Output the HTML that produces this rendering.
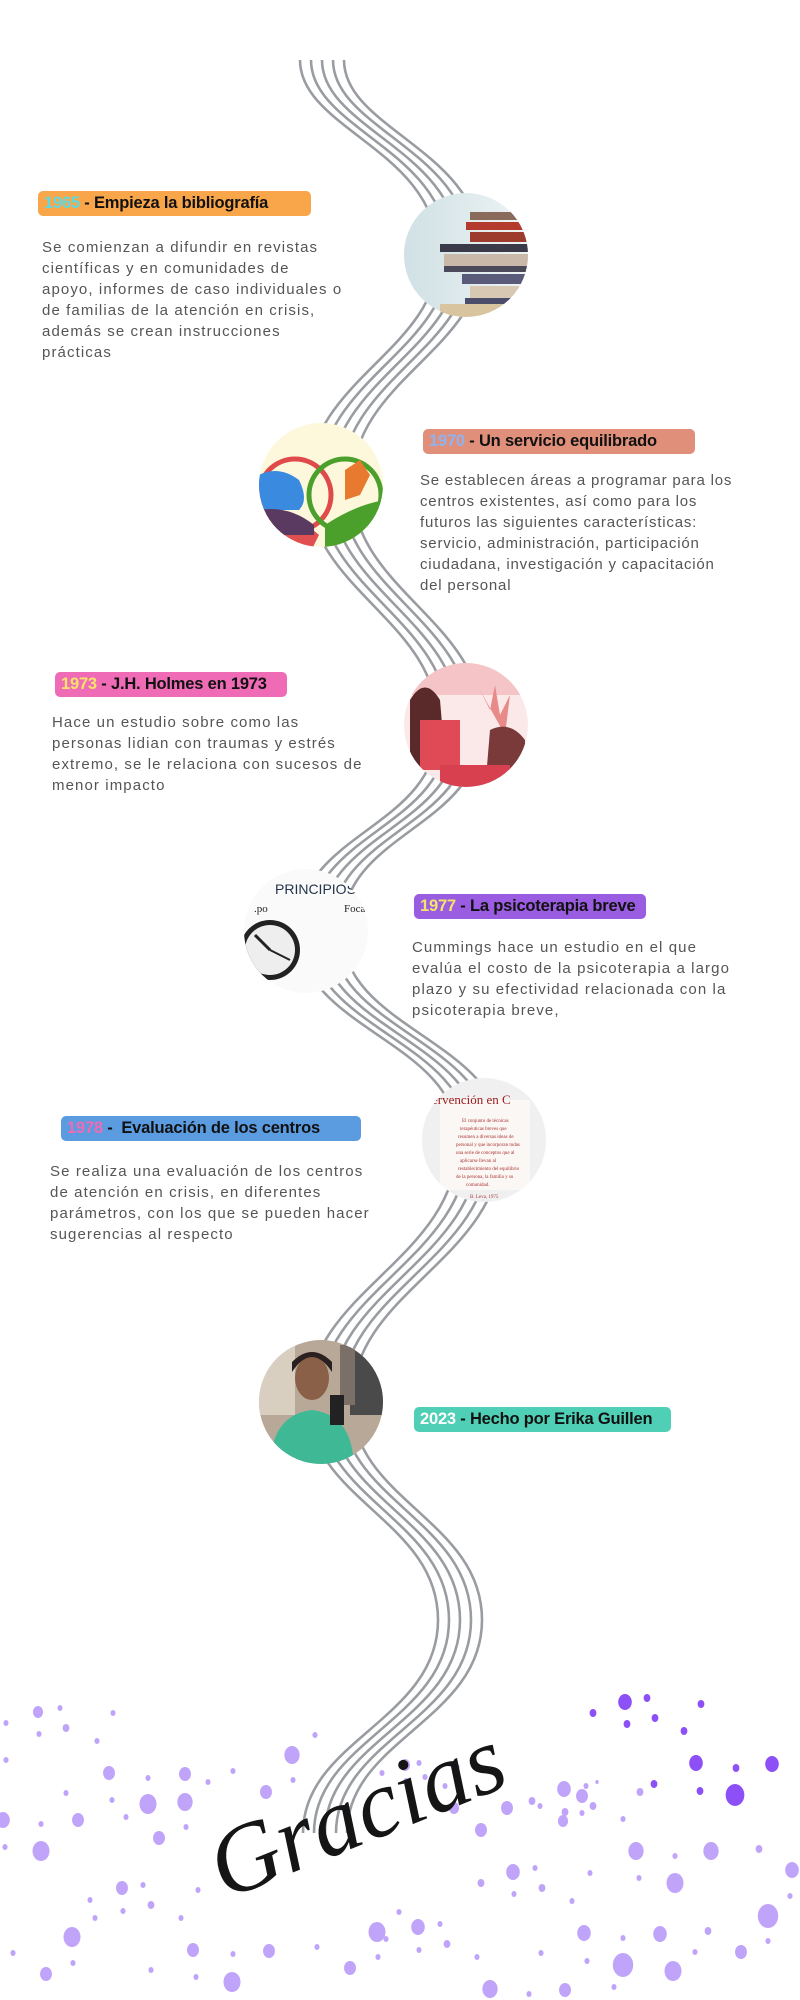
<!DOCTYPE html>
<html><head><meta charset="utf-8">
<style>
html,body{margin:0;padding:0;background:#fff;}
#page{position:relative;width:800px;height:2000px;overflow:hidden;background:#fff;font-family:"Liberation Sans",sans-serif;}
.lbl{position:absolute;height:25px;border-radius:5px;font-weight:bold;font-size:16.5px;line-height:25px;padding-left:6px;white-space:nowrap;color:#111;letter-spacing:-0.2px;}
.body{position:absolute;font-size:15px;line-height:21px;letter-spacing:1.1px;color:#555;white-space:nowrap;}
svg{position:absolute;left:0;top:0;}
</style></head><body>
<div id="page">
<svg width="800" height="2000">
<defs>
<clipPath id="cp1"><circle cx="466" cy="255" r="62"/></clipPath>
<clipPath id="cp2"><circle cx="321" cy="485" r="62"/></clipPath>
<clipPath id="cp3"><circle cx="466" cy="725" r="62"/></clipPath>
<clipPath id="cp4"><circle cx="306" cy="931" r="62"/></clipPath>
<clipPath id="cp5"><circle cx="484" cy="1140" r="62"/></clipPath>
<clipPath id="cp6"><circle cx="321" cy="1402" r="62"/></clipPath>
<linearGradient id="g1" x1="0" x2="1"><stop offset="0" stop-color="#cfe0e4"/><stop offset="1" stop-color="#eef4f4"/></linearGradient>
</defs>
<g id="dots"></g>
<g id="wave" fill="none" stroke="#999da1" stroke-width="2.6"></g>
<g clip-path="url(#cp1)">
<rect x="400" y="190" width="130" height="130" fill="url(#g1)"/>
<rect x="470" y="212" width="60" height="8" fill="#8a6a5a"/>
<rect x="466" y="222" width="64" height="8" fill="#b53a2e"/>
<rect x="470" y="232" width="60" height="10" fill="#9d3b2c"/>
<rect x="440" y="244" width="90" height="8" fill="#3a3a48"/>
<rect x="444" y="254" width="86" height="12" fill="#c9b9a8"/>
<rect x="444" y="266" width="86" height="6" fill="#4a4a5a"/>
<rect x="462" y="274" width="68" height="10" fill="#5a5a7a"/>
<rect x="470" y="286" width="60" height="12" fill="#d7c8b4"/>
<rect x="465" y="298" width="65" height="6" fill="#4b4d6a"/>
<rect x="440" y="304" width="90" height="16" fill="#d8c5a0"/>
</g>
<g clip-path="url(#cp2)">
<rect x="255" y="420" width="135" height="130" fill="#fdf8dc"/>
<circle cx="295" cy="495" r="36" fill="none" stroke="#e04a4a" stroke-width="5"/>
<circle cx="345" cy="495" r="36" fill="none" stroke="#4aa02a" stroke-width="5"/>
<path d="M259,475 q20,-10 40,5 q10,20 0,30 l-40,0z" fill="#3a8ae0"/>
<path d="M259,515 q40,0 60,20 l-10,20 l-50,0z" fill="#e05050"/>
<path d="M259,510 q30,-5 55,15 l0,10 l-55,0z" fill="#5a3a60"/>
<path d="M325,525 q30,-20 60,-25 l0,50 l-60,0z" fill="#4aa02a"/>
<path d="M345,470 l15,-10 l10,15 l-10,20 l-15,5z" fill="#e87a30"/>
</g>
<g clip-path="url(#cp3)">
<rect x="400" y="660" width="135" height="130" fill="#fbe9ea"/>
<rect x="400" y="660" width="135" height="35" fill="#f4c4c6"/>
<path d="M410,700 q15,-25 30,0 l5,60 l-35,10z" fill="#5a2a2a"/>
<rect x="420" y="720" width="40" height="50" fill="#e04a56"/>
<path d="M480,690 l10,20 l5,-25 l5,30 l10,-20 l-5,40z" fill="#e88a88"/>
<path d="M490,730 q20,-10 35,10 l0,50 l-40,0z" fill="#7a3a3a"/>
<rect x="440" y="765" width="70" height="25" fill="#d84050"/>
</g>
<g clip-path="url(#cp4)">
<rect x="240" y="865" width="135" height="135" fill="#fafafa"/>
<text x="275" y="894" font-family="Liberation Sans" font-size="14" fill="#23344a">PRINCIPIOS</text>
<text x="254" y="912" font-family="Liberation Serif" font-size="11" fill="#222">.po</text>
<text x="344" y="912" font-family="Liberation Serif" font-size="11" fill="#222">Foca</text>
<circle cx="270" cy="950" r="30" fill="#222"/>
<circle cx="270" cy="950" r="25" fill="#eee"/>
<line x1="270" y1="950" x2="255" y2="935" stroke="#222" stroke-width="3"/>
<line x1="270" y1="950" x2="290" y2="960" stroke="#222" stroke-width="2"/>
<circle cx="378" cy="960" r="12" fill="#ddd"/>
</g>
<g clip-path="url(#cp5)">
<rect x="420" y="1075" width="130" height="135" fill="#f0f0f0"/>
<rect x="440" y="1100" width="90" height="90" fill="#fbf7f4"/>
<text x="432" y="1104" font-family="Liberation Serif" font-size="13" fill="#9b1b1b">ervención en C</text>
<g fill="#a33" font-family="Liberation Serif" font-size="5">
<text x="462" y="1122">El conjunto de técnicas</text><text x="460" y="1130">terapéuticas breves que</text><text x="458" y="1138">resumen a diversas ideas de</text><text x="456" y="1146">personal y que incorporan todas</text><text x="456" y="1154">una serie de conceptos que al</text><text x="460" y="1162">aplicarse llevan al</text><text x="458" y="1170">restablecimiento del equilibrio</text><text x="456" y="1178">de la persona, la familia y su</text><text x="466" y="1186">comunidad.</text><text x="470" y="1198">B. Leva, 1975</text>
</g>
</g>
<g clip-path="url(#cp6)">
<rect x="255" y="1335" width="135" height="135" fill="#b8a898"/>
<rect x="255" y="1335" width="40" height="80" fill="#d8cfc0"/>
<rect x="350" y="1335" width="40" height="80" fill="#4a4a4a"/>
<rect x="340" y="1345" width="15" height="60" fill="#7a7068"/>
<ellipse cx="312" cy="1378" rx="17" ry="22" fill="#8a6048"/>
<path d="M292,1372 q20,-30 40,0 l0,-10 q-20,-20 -40,0z" fill="#2a2020"/>
<path d="M270,1470 q0,-55 42,-60 q42,5 42,60z" fill="#3fb896"/>
<rect x="330" y="1395" width="14" height="30" fill="#222"/>
</g>
<text x="0" y="0" transform="translate(225,1900) rotate(-22)" font-family="Liberation Serif" font-style="italic" font-size="96" fill="#151515">Gracias</text>
</svg>

<div class="lbl" style="left:38px;top:191px;width:267px;background:#f9a64a"><span style="color:#5fd8e0">1965</span> - Empieza la bibliografía</div>
<div class="body" style="left:42px;top:237px">Se comienzan a difundir en revistas<br>científicas y en comunidades de<br>apoyo, informes de caso individuales o<br>de familias de la atención en crisis,<br>además se crean instrucciones<br>prácticas</div>

<div class="lbl" style="left:423px;top:429px;width:266px;background:#e0907a"><span style="color:#8fb3f0">1970</span> - Un servicio equilibrado</div>
<div class="body" style="left:420px;top:470px;letter-spacing:0.8px">Se establecen áreas a programar para los<br>centros existentes, así como para los<br>futuros las siguientes características:<br>servicio, administración, participación<br>ciudadana, investigación y capacitación<br>del personal</div>

<div class="lbl" style="left:55px;top:672px;width:226px;background:#ef6bb5"><span style="color:#f4e46a">1973</span> - J.H. Holmes en 1973</div>
<div class="body" style="left:52px;top:712px">Hace un estudio sobre como las<br>personas lidian con traumas y estrés<br>extremo, se le relaciona con sucesos de<br>menor impacto</div>

<div class="lbl" style="left:414px;top:894px;width:226px;background:#9a5ce0"><span style="color:#f4e46a">1977</span> - La psicoterapia breve</div>
<div class="body" style="left:412px;top:937px">Cummings hace un estudio en el que<br>evalúa el costo de la psicoterapia a largo<br>plazo y su efectividad relacionada con la<br>psicoterapia breve,</div>

<div class="lbl" style="left:61px;top:1116px;width:294px;background:#5b9be0"><span style="color:#ef6bb5">1978</span> -&nbsp; Evaluación de los centros</div>
<div class="body" style="left:50px;top:1161px">Se realiza una evaluación de los centros<br>de atención en crisis, en diferentes<br>parámetros, con los que se pueden hacer<br>sugerencias al respecto</div>

<div class="lbl" style="left:414px;top:1407px;width:251px;background:#4fcfb5"><span style="color:#fff">2023</span> - Hecho por Erika Guillen</div>

<script>
var NS="http://www.w3.org/2000/svg";
var wave=document.getElementById('wave');
var d="M322,60 C322,130 460,150 460,255 C460,350 330,380 330,485 C330,590 460,620 460,725 C460,830 320,830 320,931 C320,1030 480,1040 480,1140 C480,1260 330,1290 330,1402 C330,1500 460,1520 460,1620 C460,1720 325,1740 325,1833";
[-22,-11,0,11,22].forEach(function(o){
  var p=document.createElementNS(NS,'path');
  p.setAttribute('d',d);
  p.setAttribute('transform','translate('+o+',0)');
  
  
  wave.appendChild(p);
});
var light=[[38,1712,6],[60,1708,3],[113,1713,3],[6,1723,3],[66,1728,4],[39,1734,3],[97,1741,3],[6,1760,3],[109,1773,7],[148,1778,3],[185,1774,7],[208,1782,3],[233,1771,3],[66,1793,3],[112,1800,3],[148,1804,10],[185,1802,9],[3,1820,8],[41,1824,3],[78,1820,7],[126,1817,3],[159,1838,7],[186,1827,3],[5,1847,3],[41,1851,10],[292,1755,9],[315,1735,3],[293,1780,3],[266,1792,7],[122,1888,7],[143,1885,3],[198,1890,3],[90,1900,3],[151,1905,4],[123,1911,3],[95,1918,3],[181,1918,3],[72,1937,10],[13,1953,3],[193,1950,7],[233,1954,3],[269,1951,7],[317,1947,3],[73,1963,3],[46,1974,7],[151,1970,3],[196,1977,3],[232,1982,10],[350,1968,7],[377,1932,10],[386,1939,3],[399,1912,3],[418,1927,8],[440,1924,3],[419,1950,3],[447,1944,4],[378,1957,3],[477,1957,3],[490,1989,9],[529,1994,3],[565,1990,7],[541,1953,3],[587,1961,3],[584,1933,8],[623,1938,3],[623,1965,12],[614,1987,3],[673,1971,10],[660,1934,8],[708,1931,4],[695,1952,3],[741,1952,7],[768,1941,3],[768,1916,12],[790,1896,3],[792,1870,8],[759,1849,4],[711,1851,9],[675,1856,3],[675,1883,10],[639,1878,3],[636,1851,9],[623,1819,3],[572,1901,3],[513,1872,8],[535,1868,3],[542,1888,4],[514,1894,3],[481,1883,4],[590,1873,3],[563,1821,6],[565,1812,4],[582,1813,3],[593,1806,4],[564,1789,8],[582,1796,7],[586,1786,3],[597,1782,2],[532,1801,4],[540,1806,3],[507,1808,7],[481,1830,7],[454,1808,6],[445,1786,3],[457,1767,3],[425,1777,3],[406,1781,3],[405,1765,6],[419,1763,3],[382,1773,3],[640,1792,4]];
var dark=[[625,1702,8],[647,1698,4],[701,1704,4],[593,1713,4],[655,1718,4],[627,1724,4],[684,1731,4],[696,1763,8],[736,1768,4],[772,1764,8],[654,1784,4],[700,1791,4],[735,1795,11]];
var dots=document.getElementById('dots');
function addDots(arr,col){arr.forEach(function(a){
  var c=document.createElementNS(NS,'ellipse');
  c.setAttribute('cx',a[0]);c.setAttribute('cy',a[1]);c.setAttribute('rx',a[2]*0.85);c.setAttribute('ry',a[2]);
  c.setAttribute('fill',col);
  
  
  dots.appendChild(c);});}
addDots(light,'#c0a4fa');
addDots(dark,'#8c50f6');
</script>
</div>
</body></html>
